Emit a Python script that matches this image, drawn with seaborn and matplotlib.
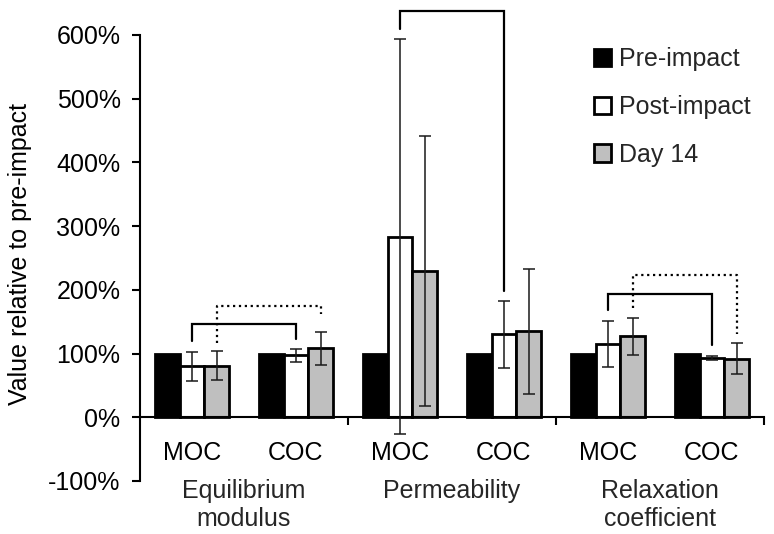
import matplotlib
matplotlib.use("Agg")
import matplotlib.pyplot as plt
import seaborn as sns
import pandas as pd
import numpy as np

# ---- data ----
groups = ["Equilibrium\nmodulus", "Permeability", "Relaxation\ncoefficient"]
subgroups = ["MOC", "COC"]
series = ["Pre-impact", "Post-impact", "Day 14"]
pre_vals = [100, 100, 100, 100, 100, 100]
post_vals = [80, 97, 283, 130, 115, 93]
day14_vals = [81, 108, 229, 135, 127, 92]
post_err = [23, 10, 310, 52, 36, 2.5]
day14_err = [23, 25.5, 212, 98, 29, 24]
yticks = [-100, 0, 100, 200, 300, 400, 500, 600]
# brackets: (series idx, category idx left, category idx right, top, left bottom, right bottom, style)
brackets = [
    (1, 0, 1, 146, 119, 123, "-"),
    (2, 0, 1, 174.5, 117, 161.5, ":"),
    (1, 2, 3, 638, 609, 198, "-"),
    (1, 4, 5, 194, 168, 113, "-"),
    (2, 4, 5, 222.5, 172, 131, ":"),
]

cat_keys = [f"{g} {s}" for g in groups for s in subgroups]
rows = []
for name, vals in zip(series, [pre_vals, post_vals, day14_vals]):
    for k, v in zip(cat_keys, vals):
        rows.append({"cat": k, "series": name, "value": v})
df = pd.DataFrame(rows)

sns.set_theme(style="white")
plt.rcParams["font.family"] = ["Liberation Sans", "DejaVu Sans"]
FS = 18

fig = plt.figure(figsize=(7.74, 5.34), dpi=100)
ax = fig.add_axes([0.1809, 0.0993, 0.8061, 0.8352])

sns.barplot(data=df, x="cat", y="value", hue="series", order=cat_keys,
            hue_order=series, palette=["black", "white", "#bfbfbf"],
            saturation=1, edgecolor="black", linewidth=2, width=0.71,
            gap=0, errorbar=None, legend=False, ax=ax, zorder=2)

conts = list(ax.containers)
centers = []
for c in conts:
    centers.append([p.get_x() + p.get_width() / 2 for p in c.patches])

for si, errs, vals in [(1, post_err, post_vals), (2, day14_err, day14_vals)]:
    ax.errorbar(centers[si], vals, yerr=errs, fmt="none", ecolor="#1a1a1a",
                elinewidth=1.1, capsize=4, capthick=1.1, zorder=3, clip_on=False)

for si, cl, cr, top, lb, rb, ls in brackets:
    xl = centers[si][cl]
    xr = centers[si][cr]
    ax.plot([xl, xl, xr, xr], [lb, top, top, rb], color="black", lw=1.6,
            ls=ls, clip_on=False, zorder=4, solid_joinstyle="miter",
            dash_capstyle="butt")

ax.set_xlim(-0.5, 5.5)
ax.set_ylim(-100, 600)
ax.set_yticks(yticks)
ax.set_yticklabels([f"{v}%" for v in yticks])
ax.set_xticks(range(6))
ax.set_xticklabels(subgroups * 3)
ax.set_xticks([1.5, 3.5, 5.5], minor=True)
ax.tick_params(axis="x", which="major", length=0, pad=17, colors="black",
               labelsize=FS)
ax.tick_params(axis="x", which="minor", length=6, width=1.5, direction="out",
               bottom=True, color="black")
ax.tick_params(axis="y", length=6, width=1.5, direction="out", left=True,
               pad=8, colors="black", labelsize=FS)
ax.set_xlabel("")
ax.set_ylabel("Value relative to pre-impact", fontsize=FS, color="black")
ax.yaxis.set_label_coords(-0.173, 0.51)

for sp in ["top", "right"]:
    ax.spines[sp].set_visible(False)
ax.spines["left"].set_linewidth(1.5)
ax.spines["left"].set_color("black")
ax.spines["bottom"].set_position(("data", 0))
ax.spines["bottom"].set_linewidth(1.5)
ax.spines["bottom"].set_color("black")

for gi, g in enumerate(groups):
    ax.text(2 * gi + 0.5, -97, g, ha="center", va="top", fontsize=FS,
            linespacing=1.22, clip_on=False)

handles = [c.patches[0] for c in conts]
leg = ax.legend(handles, series, loc="upper left", bbox_to_anchor=(0.727, 0.972),
                frameon=False, fontsize=FS, handlelength=0.7, handleheight=0.7,
                handletextpad=0.3, labelspacing=0.95, borderpad=0, borderaxespad=0)

fig.savefig("out.png", dpi=100)
